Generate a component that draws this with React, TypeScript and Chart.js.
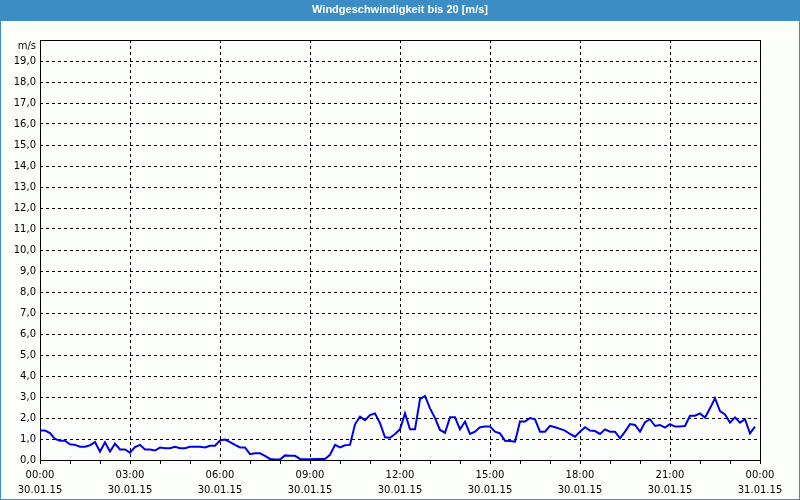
import React, { useEffect, useRef } from 'react';
import { Chart, registerables } from 'chart.js';

Chart.register(...registerables);

const TITLE = 'Windgeschwindigkeit bis 20 [m/s]';
const Y_UNIT = 'm/s';
const Y_MIN = 0;
const Y_MAX = 20;
const X_MIN_MIN = 0;
const X_MAX_MIN = 1440;
const SAMPLE_INTERVAL_MIN = 10;
const MINOR_TICK_MIN = 60;
const LABEL_STEP_MIN = 180;

// wind speed, one value per 10 minutes from 00:00
const windSpeed = [
  1.4, 1.4, 1.28, 1.0, 0.92, 0.92, 0.75, 0.72, 0.63, 0.63, 0.7, 0.86,
  0.4, 0.84, 0.4, 0.78, 0.5, 0.5, 0.35, 0.62, 0.72, 0.5, 0.5, 0.45,
  0.59, 0.56, 0.56, 0.63, 0.56, 0.56, 0.63, 0.63, 0.63, 0.6, 0.68, 0.68,
  0.93, 0.97, 0.85, 0.72, 0.6, 0.6, 0.28, 0.32, 0.32, 0.2, 0.05, 0.02,
  0.02, 0.22, 0.2, 0.2, 0.05, 0.03, 0.03, 0.05, 0.05, 0.05, 0.25, 0.72,
  0.6, 0.7, 0.72, 1.7, 2.06, 1.9, 2.14, 2.22, 1.75, 1.08, 1.06, 1.24,
  1.46, 2.22, 1.46, 1.46, 2.9, 3.05, 2.46, 2.0, 1.43, 1.3, 2.03, 2.03,
  1.46, 1.83, 1.24, 1.35, 1.56, 1.59, 1.59, 1.35, 1.27, 0.92, 0.9, 0.87,
  1.83, 1.83, 2.0, 1.94, 1.35, 1.35, 1.63, 1.56, 1.48, 1.4, 1.24, 1.11,
  1.35, 1.56, 1.4, 1.38, 1.24, 1.46, 1.35, 1.35, 1.03, 1.35, 1.71, 1.67,
  1.35, 1.8, 1.94, 1.62, 1.67, 1.54, 1.71, 1.59, 1.59, 1.62, 2.11, 2.11,
  2.22, 2.02, 2.46, 2.94, 2.33, 2.17, 1.78, 2.03, 1.78, 1.94, 1.27, 1.59,
];

const xTickTimes = ['00:00', '03:00', '06:00', '09:00', '12:00', '15:00', '18:00', '21:00', '00:00'];
const xTickDates = ['30.01.15', '30.01.15', '30.01.15', '30.01.15', '30.01.15', '30.01.15', '30.01.15', '30.01.15', '31.01.15'];

const TITLE_BAR = '#3c8dc5';
const BG = '#fcfefc';
const LINE_COLOR = '#0000e6';
const FONT = 'DejaVu Sans';
const TITLE_FONT = 'Liberation Sans';

const framePlugin = {
  id: 'frame',
  beforeDraw(chart: any) {
    const { ctx, width, height } = chart;
    ctx.save();
    ctx.fillStyle = BG;
    ctx.fillRect(0, 0, width, height);
    ctx.fillStyle = TITLE_BAR;
    ctx.fillRect(0, 0, width, 21);
    ctx.fillRect(0, 0, 1, height);
    ctx.fillRect(width - 1, 0, 1, height);
    ctx.fillRect(0, height - 1, width, 1);
    ctx.restore();
  },
  beforeDatasetsDraw(chart: any) {
    const { ctx, chartArea } = chart;
    const { left, top, right, bottom } = chartArea;
    ctx.save();
    ctx.strokeStyle = '#000000';
    ctx.lineWidth = 1;
    ctx.setLineDash([]);
    ctx.strokeRect(Math.round(left) + 0.5, Math.round(top) + 0.5, Math.round(right - left), Math.round(bottom - top));
    ctx.restore();
  },
};

export default function App() {
  const ref = useRef<HTMLCanvasElement | null>(null);

  useEffect(() => {
    if (!ref.current) return;
    const points = windSpeed.map((v, i) => ({ x: i * SAMPLE_INTERVAL_MIN, y: v }));
    const chart = new Chart(ref.current, {
      type: 'line',
      data: {
        datasets: [
          {
            data: points,
            yAxisID: 'y',
            borderColor: LINE_COLOR,
            borderWidth: 2,
            pointRadius: 0,
            tension: 0,
            fill: false,
          },
        ],
      },
      options: {
        animation: false,
        responsive: false,
        events: [],
        layout: { padding: 0 },
        plugins: {
          legend: { display: false },
          tooltip: { enabled: false },
          title: {
            display: true,
            text: TITLE,
            color: '#ffffff',
            font: { family: TITLE_FONT, size: 11, weight: 'bold', lineHeight: 1.2 },
            padding: { top: 3.4, bottom: 23.4 },
          },
        },
        scales: {
          x: {
            type: 'linear',
            min: X_MIN_MIN,
            max: X_MAX_MIN,
            afterFit: (s: any) => { s.height = 40; },
            border: { display: false, dash: [3, 3] },
            grid: {
              color: (c: any) => {
                const v = c.tick ? c.tick.value : 0;
                return v % LABEL_STEP_MIN === 0 && v !== X_MIN_MIN && v !== X_MAX_MIN ? '#000000' : 'rgba(0,0,0,0)';
              },
              lineWidth: 1,
              drawTicks: true,
              tickLength: 4,
              tickColor: '#000000',
              tickBorderDash: [],
            },
            ticks: {
              stepSize: MINOR_TICK_MIN,
              autoSkip: false,
              maxRotation: 0,
              minRotation: 0,
              padding: 4,
              color: '#000000',
              font: { family: FONT, size: 10, lineHeight: 1.5 },
              callback: (value: any) => {
                const v = Number(value);
                if (v % LABEL_STEP_MIN !== 0) return '';
                const i = v / LABEL_STEP_MIN;
                return [xTickTimes[i], xTickDates[i]];
              },
            },
          },
          y: {
            type: 'linear',
            position: 'left',
            min: Y_MIN,
            max: Y_MAX,
            afterFit: (s: any) => { s.width = 40; },
            border: { display: false, dash: [3, 3] },
            grid: {
              color: (c: any) => {
                const v = c.tick ? c.tick.value : 0;
                return v !== Y_MIN && v !== Y_MAX ? '#000000' : 'rgba(0,0,0,0)';
              },
              lineWidth: 1,
              drawTicks: false,
            },
            ticks: {
              stepSize: 1,
              autoSkip: false,
              padding: 4,
              color: '#000000',
              font: { family: FONT, size: 10, lineHeight: 1.2 },
              callback: (value: any) => {
                const v = Number(value);
                if (v === Y_MAX) return ['', Y_UNIT];
                return `${v},0`;
              },
            },
          },
          yRight: {
            type: 'linear',
            position: 'right',
            min: Y_MIN,
            max: Y_MAX,
            afterFit: (s: any) => { s.width = 40; },
            border: { display: false },
            grid: { display: false, drawTicks: false },
            ticks: { display: false },
          },
        },
      },
      plugins: [framePlugin],
    } as any);
    return () => chart.destroy();
  }, []);

  return (
    <div style={{ position: 'fixed', left: 0, top: 0, width: 800, height: 500 }}>
      <canvas ref={ref} width={800} height={500} style={{ display: 'block', width: 800, height: 500 }} />
    </div>
  );
}
